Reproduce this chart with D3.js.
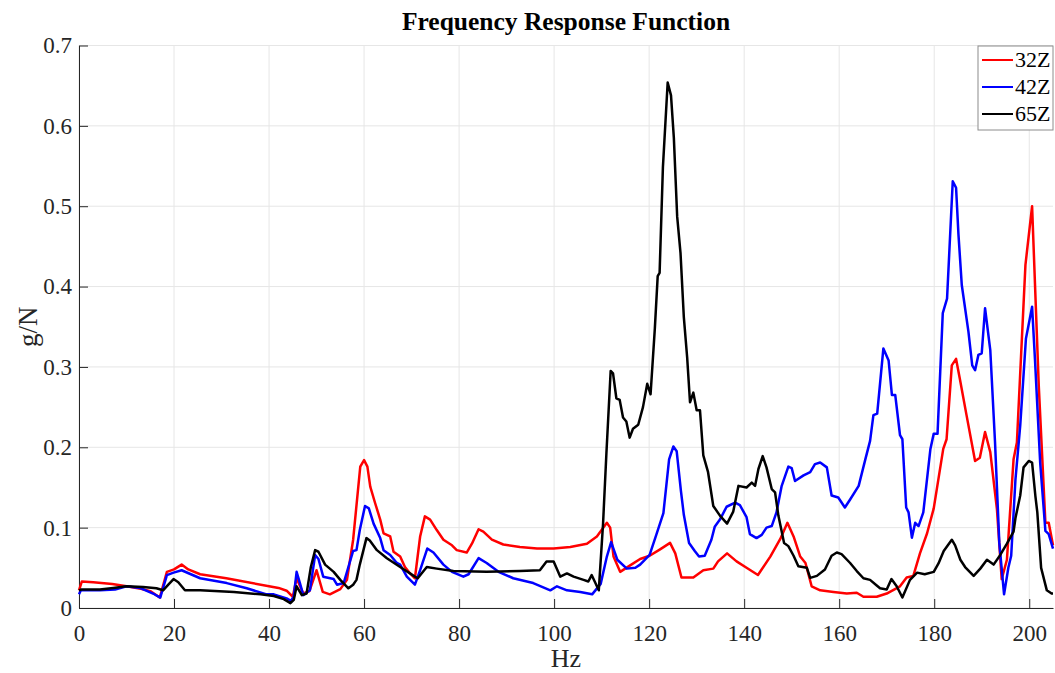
<!DOCTYPE html>
<html>
<head>
<meta charset="utf-8">
<script src="https://cdn.jsdelivr.net/npm/d3@7"></script>
<style>
  body { margin: 0; background: #fff; }
  text { font-family: "Liberation Serif", "DejaVu Serif", serif; fill: #262626; }
</style>
</head>
<body>
<svg id="chart"></svg>
<script>
// series names and colours
const seriesNames = ["32Z", "42Z", "65Z"]
const seriesColors = ["#ff0000", "#0000ff", "#000000"]

// 32Z (red)
const freq32 = [0, 0.6, 3, 7, 10, 13, 15, 17, 18.5, 20, 21.6, 23, 25.5, 31, 40, 42, 43.7, 45, 45.8, 47.2, 48.5, 50, 51.3, 52.8, 55, 56.4, 57.7, 59.2, 60, 60.7, 61.3, 62.3, 63.4, 64.1, 65.5, 66.2, 67.6, 68.6, 69.7, 70.7, 71.8, 72.8, 73.9, 75.3, 76.7, 78.5, 79.5, 81.6, 82.7, 84.1, 85.1, 86.9, 89.3, 92.8, 96.4, 99.9, 103.4, 106.9, 109, 111.1, 111.8, 112.5, 113.9, 116, 118.1, 120.1, 122.3, 124.4, 125.5, 126.8, 129.3, 131.4, 133.5, 134.5, 136.4, 138.4, 140.5, 142.9, 145.5, 147.6, 149.1, 150.4, 151.8, 152.9, 154.2, 156, 158.8, 161.6, 163.7, 165.1, 167.9, 170, 172.8, 174.2, 175.6, 177, 178.5, 179.9, 181.9, 182.6, 183.7, 184.6, 185.4, 186.8, 188.6, 189.6, 190.7, 191.8, 193.2, 194.2, 195.3, 196.7, 197.4, 199.2, 200.6, 202, 203.4, 204.1, 205]
const val32 = [0.022, 0.033, 0.032, 0.030, 0.027, 0.024, 0.021, 0.013, 0.045, 0.048, 0.054, 0.048, 0.042, 0.037, 0.027, 0.025, 0.0215, 0.014, 0.037, 0.018, 0.021, 0.047, 0.020, 0.017, 0.0235, 0.035, 0.085, 0.176, 0.184, 0.176, 0.151, 0.131, 0.110, 0.093, 0.089, 0.070, 0.064, 0.051, 0.043, 0.037, 0.089, 0.114, 0.110, 0.097, 0.085, 0.078, 0.072, 0.069, 0.080, 0.098, 0.095, 0.085, 0.079, 0.076, 0.074, 0.074, 0.076, 0.080, 0.089, 0.106, 0.100, 0.064, 0.045, 0.053, 0.061, 0.065, 0.073, 0.081, 0.068, 0.038, 0.038, 0.047, 0.049, 0.058, 0.068, 0.058, 0.050, 0.041, 0.064, 0.086, 0.106, 0.089, 0.064, 0.056, 0.027, 0.022, 0.020, 0.018, 0.019, 0.014, 0.014, 0.018, 0.027, 0.038, 0.040, 0.068, 0.093, 0.124, 0.198, 0.21, 0.302, 0.310, 0.285, 0.240, 0.183, 0.187, 0.219, 0.194, 0.123, 0.036, 0.06, 0.185, 0.206, 0.427, 0.500, 0.277, 0.106, 0.106, 0.078]

// 42Z (blue)
const freq42 = [0, 0.4, 4.4, 7.6, 10, 12.8, 15.6, 17.1, 18.5, 19.9, 21.6, 25.5, 31.1, 35.3, 39.5, 41, 43.7, 44.6, 45.2, 45.8, 46.5, 47.2, 48.6, 49.7, 50.4, 51.4, 53.6, 54.3, 55.7, 56.7, 57.7, 58.4, 59.1, 60.2, 61, 62, 63.4, 64.1, 65.5, 66.9, 67.6, 69, 70.7, 71.8, 73.3, 74.6, 76.7, 78.5, 80.9, 82, 84.1, 85.8, 88.3, 91.4, 95.6, 99.2, 100.6, 102.7, 105.5, 108, 109.8, 111.1, 112, 113.3, 115.3, 117.1, 118.1, 120.1, 121.5, 123, 124.2, 125.1, 125.8, 126.7, 127.3, 128.4, 129.6, 130.5, 131.7, 133.1, 133.8, 134.9, 136.3, 138.1, 139.1, 140.5, 141.2, 142.6, 143.7, 144.7, 145.8, 146.8, 147.9, 149.3, 150, 150.7, 152.5, 153.9, 154.9, 156, 157.4, 158.4, 159.8, 161.2, 162.3, 164.1, 165.5, 166.5, 167.2, 168, 169.3, 170.4, 171.1, 171.8, 172.8, 173.3, 174.1, 174.6, 175.3, 176, 176.7, 177.7, 179.2, 179.9, 180.7, 181.8, 182.7, 183.9, 184.6, 185.1, 185.8, 187.2, 188, 188.6, 189.3, 190, 190.7, 191.8, 192.8, 193.7, 194.7, 195.6, 196.2, 197.1, 198.1, 199.3, 200.6, 201.2, 202.3, 203.4, 204.1, 205]
const val42 = [0.017, 0.022, 0.022, 0.023, 0.027, 0.025, 0.018, 0.013, 0.041, 0.044, 0.047, 0.037, 0.031, 0.0245, 0.017, 0.017, 0.012, 0.009, 0.014, 0.045, 0.031, 0.016, 0.022, 0.066, 0.061, 0.039, 0.036, 0.029, 0.031, 0.051, 0.071, 0.072, 0.097, 0.127, 0.124, 0.105, 0.087, 0.072, 0.066, 0.056, 0.054, 0.039, 0.029, 0.047, 0.074, 0.069, 0.054, 0.045, 0.039, 0.042, 0.062, 0.056, 0.045, 0.037, 0.031, 0.022, 0.027, 0.022, 0.020, 0.017, 0.030, 0.064, 0.082, 0.060, 0.049, 0.050, 0.054, 0.066, 0.091, 0.118, 0.185, 0.201, 0.195, 0.145, 0.116, 0.081, 0.071, 0.064, 0.065, 0.085, 0.101, 0.110, 0.126, 0.131, 0.128, 0.113, 0.092, 0.087, 0.091, 0.100, 0.102, 0.119, 0.152, 0.176, 0.174, 0.158, 0.165, 0.169, 0.179, 0.181, 0.175, 0.140, 0.1375, 0.125, 0.135, 0.152, 0.185, 0.208, 0.24, 0.242, 0.323, 0.308, 0.265, 0.265, 0.215, 0.21, 0.125, 0.119, 0.0875, 0.106, 0.102, 0.119, 0.198, 0.217, 0.217, 0.367, 0.385, 0.531, 0.523, 0.465, 0.402, 0.344, 0.302, 0.296, 0.315, 0.317, 0.373, 0.321, 0.206, 0.081, 0.017, 0.050, 0.065, 0.160, 0.227, 0.335, 0.375, 0.31, 0.181, 0.096, 0.092, 0.074]

// 65Z (black)
const freq65 = [0, 0.5, 4.4, 7.2, 10, 13.5, 16.3, 17.7, 18.8, 19.9, 20.9, 22.3, 25.5, 32.6, 38.2, 41, 43.1, 44.5, 45.2, 45.8, 46.9, 47.9, 48.8, 49.7, 50.4, 51.8, 53.6, 55, 56.7, 57.7, 58.4, 59.1, 60.5, 61.2, 62.7, 64.8, 67.6, 70.7, 71.3, 73.2, 75.3, 78.8, 85.8, 92.8, 97, 98.4, 99.9, 101.3, 102.7, 104.1, 106.2, 107.2, 107.9, 109.4, 110.3, 111, 111.9, 112.4, 113.1, 113.8, 114.5, 115.2, 115.9, 116.6, 117.7, 118.7, 119.6, 120.3, 121.2, 121.8, 122.2, 122.9, 123.9, 124.6, 125.2, 125.9, 126.6, 127.3, 128, 128.6, 129.3, 130, 130.7, 131.4, 132.4, 133.5, 134.9, 136.4, 137.7, 138.8, 140.5, 141.6, 142.3, 143, 143.9, 144.7, 145.8, 146.5, 147.2, 148.4, 149.3, 150.4, 151.4, 153.2, 153.9, 155.3, 157, 158.4, 159.5, 160.5, 162.3, 163.7, 165.1, 166.5, 167.9, 168.6, 170, 171, 172.1, 173.3, 174.9, 176.4, 178, 179.9, 180.9, 182, 183.7, 184.4, 185.5, 186.5, 188.3, 189.7, 191.1, 192.5, 193.9, 195.3, 196.7, 197.1, 198.1, 198.8, 199.9, 200.6, 201.3, 201.7, 202.5, 203.7, 204.7, 205]
const val65 = [0.022, 0.023, 0.023, 0.025, 0.027, 0.026, 0.0245, 0.022, 0.029, 0.036, 0.032, 0.022, 0.022, 0.020, 0.017, 0.015, 0.011, 0.006, 0.010, 0.027, 0.016, 0.018, 0.051, 0.072, 0.070, 0.054, 0.045, 0.035, 0.0245, 0.029, 0.035, 0.054, 0.087, 0.084, 0.072, 0.062, 0.051, 0.039, 0.037, 0.051, 0.049, 0.046, 0.045, 0.046, 0.047, 0.058, 0.058, 0.039, 0.043, 0.039, 0.035, 0.033, 0.041, 0.022, 0.105, 0.192, 0.295, 0.292, 0.261, 0.259, 0.237, 0.232, 0.212, 0.223, 0.228, 0.25, 0.279, 0.266, 0.348, 0.413, 0.417, 0.549, 0.654, 0.638, 0.585, 0.487, 0.442, 0.362, 0.312, 0.256, 0.268, 0.246, 0.246, 0.19, 0.169, 0.127, 0.115, 0.105, 0.12, 0.152, 0.15, 0.156, 0.152, 0.173, 0.189, 0.175, 0.148, 0.144, 0.115, 0.081, 0.077, 0.065, 0.052, 0.05, 0.0375, 0.040, 0.048, 0.065, 0.069, 0.067, 0.056, 0.046, 0.037, 0.035, 0.028, 0.0245, 0.023, 0.036, 0.027, 0.013, 0.035, 0.044, 0.042, 0.045, 0.0555, 0.071, 0.085, 0.078, 0.060, 0.051, 0.040, 0.049, 0.060, 0.054, 0.066, 0.080, 0.095, 0.112, 0.14, 0.175, 0.183, 0.181, 0.139, 0.119, 0.050, 0.022, 0.018, 0.018]

const xTicks = [0, 20, 40, 60, 80, 100, 120, 140, 160, 180, 200]
const yTicks = [0, 0.1, 0.2, 0.3, 0.4, 0.5, 0.6, 0.7]

const dimensions = {
  width: 1055,
  height: 673,
  margin: { top: 45.5, right: 2, bottom: 65, left: 79 },
}

const drawChart = () => {
  const svg = d3.select("#chart")
    .attr("width", dimensions.width)
    .attr("height", dimensions.height)

  const innerW = dimensions.width - dimensions.margin.left - dimensions.margin.right
  const innerH = dimensions.height - dimensions.margin.top - dimensions.margin.bottom

  const x = d3.scaleLinear().domain([0, 205]).range([0, innerW])
  const y = d3.scaleLinear().domain([0, 0.7]).range([innerH, 0])

  const graph = svg.append("g")
    .attr("transform", `translate(${dimensions.margin.left}, ${dimensions.margin.top})`)

  // grid
  graph.append("g")
    .selectAll("line.vgrid")
    .data(xTicks)
    .join("line")
    .attr("x1", (d) => x(d)).attr("x2", (d) => x(d))
    .attr("y1", 0).attr("y2", innerH)
    .attr("stroke", "#e6e6e6").attr("stroke-width", 1)
  graph.append("g")
    .selectAll("line.hgrid")
    .data(yTicks)
    .join("line")
    .attr("x1", 0).attr("x2", innerW)
    .attr("y1", (d) => y(d)).attr("y2", (d) => y(d))
    .attr("stroke", "#e6e6e6").attr("stroke-width", 1)

  // axes, ticks inside like matlab
  const xAxis = graph.append("g")
    .attr("transform", `translate(0, ${innerH})`)
    .call(d3.axisBottom(x).tickValues(xTicks).tickSizeInner(-9).tickSizeOuter(0).tickPadding(17))
  const yAxis = graph.append("g")
    .call(d3.axisLeft(y).tickValues(yTicks).tickFormat(d3.format("~g")).tickSizeInner(-9).tickSizeOuter(0).tickPadding(7))

  ;[xAxis, yAxis].forEach((ax) => {
    ax.select(".domain").attr("stroke", "#262626").attr("stroke-width", 1)
    ax.selectAll(".tick line").attr("stroke", "#262626")
    ax.selectAll(".tick text")
      .attr("font-family", "Liberation Serif, serif")
      .attr("font-size", 23)
      .attr("fill", "#262626")
  })

  // lines
  const seriesData = [
    d3.zip(freq32, val32),
    d3.zip(freq42, val42),
    d3.zip(freq65, val65),
  ]
  const line = d3.line().x((d) => x(d[0])).y((d) => y(d[1]))
  graph.append("g")
    .selectAll("path")
    .data(seriesData)
    .join("path")
    .attr("d", line)
    .attr("fill", "none")
    .attr("stroke", (d, i) => seriesColors[i])
    .attr("stroke-width", 2.5)
    .attr("stroke-linejoin", "round")

  // title and labels
  svg.append("text")
    .attr("x", dimensions.margin.left + innerW / 2)
    .attr("y", 30)
    .attr("text-anchor", "middle")
    .attr("font-size", 25.5)
    .attr("font-weight", "bold")
    .style("fill", "#000")
    .text("Frequency Response Function")

  svg.append("text")
    .attr("x", dimensions.margin.left + innerW / 2)
    .attr("y", 667)
    .attr("text-anchor", "middle")
    .attr("font-size", 26)
    .text("Hz")

  svg.append("text")
    .attr("transform", `translate(37, ${dimensions.margin.top + innerH / 2}) rotate(-90)`)
    .attr("text-anchor", "middle")
    .attr("font-size", 27)
    .text("g/N")

  // legend
  const legend = svg.append("g").attr("transform", "translate(978, 46)")
  legend.append("rect")
    .attr("width", 75).attr("height", 84)
    .attr("fill", "#fff").attr("stroke", "#8c8c8c").attr("stroke-width", 1)
  const rows = legend.selectAll("g.row")
    .data(seriesNames)
    .join("g")
    .attr("transform", (d, i) => `translate(0, ${14 + i * 27})`)
  rows.append("line")
    .attr("x1", 4).attr("x2", 35)
    .attr("stroke", (d, i) => seriesColors[i]).attr("stroke-width", 2)
  rows.append("text")
    .attr("x", 37).attr("y", 7)
    .attr("font-size", 22)
    .style("fill", "#000")
    .text((d) => d)
}

drawChart()
</script>
</body>
</html>
